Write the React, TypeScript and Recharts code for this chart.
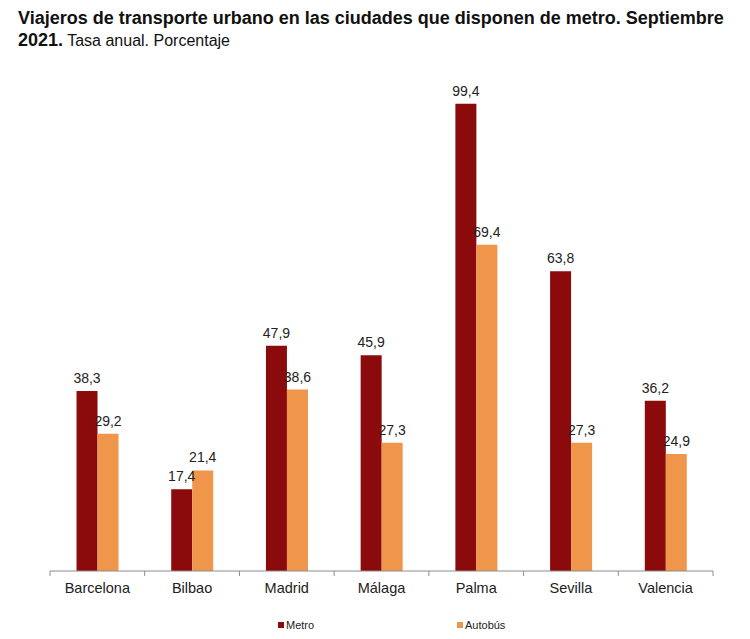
import React from 'react'
import { BarChart, Bar, XAxis, YAxis, LabelList, Legend } from 'recharts';

const cities: string[] = ['Barcelona', 'Bilbao', 'Madrid', 'Málaga', 'Palma', 'Sevilla', 'Valencia']
const metro: number[] = [38.3, 17.4, 47.9, 45.9, 99.4, 63.8, 36.2]
const autobus: number[] = [29.2, 21.4, 38.6, 27.3, 69.4, 27.3, 24.9]

const data = cities.map((name, i) => ({ name, metro: metro[i], autobus: autobus[i] }))

const METRO = '#8B0A0B'
const AUTOBUS = '#F0964A'
const AXIS = '#8c8c8c'
const FONT = '"Liberation Sans", Arial, sans-serif'
const TICK_SIZE = 5
const TICK_MARGIN = 6

const fmt = (v: any) => String(v).replace('.', ',')

// category label plus tick marks on the borders between categories
const CityTick = (props: any) => {
    const { x, y, payload, index, visibleTicksCount } = props
    const half = payload.offset || 0
    const axisY = y - TICK_SIZE - TICK_MARGIN
    const isLast = index === (visibleTicksCount ?? cities.length) - 1
    return (
        <g>
            <line x1={x - half} x2={x - half} y1={axisY} y2={axisY + 5} stroke={AXIS} />
            {isLast && <line x1={x + half} x2={x + half} y1={axisY} y2={axisY + 5} stroke={AXIS} />}
            <text x={x} y={y + 1} dy="0.71em" textAnchor="middle" fill="#222" fontSize={14.5} fontFamily={FONT}>
                {payload.value}
            </text>
        </g>
    )
}

const LegendContent = () => (
    <div style={{ position: 'relative', height: 16, fontFamily: FONT, fontSize: 11, color: '#222' }}>
        <div style={{ position: 'absolute', left: 278, top: 0, display: 'flex', alignItems: 'center' }}>
            <span style={{ width: 6, height: 6, background: METRO, marginRight: 2, display: 'inline-block' }} />
            Metro
        </div>
        <div style={{ position: 'absolute', left: 457, top: 0, display: 'flex', alignItems: 'center' }}>
            <span style={{ width: 6, height: 6, background: AUTOBUS, marginRight: 2, display: 'inline-block' }} />
            Autobús
        </div>
    </div>
)

const App: React.FC = () => {
    return (
        <div style={{ position: 'absolute', left: 0, top: 0, width: 750, height: 639, background: '#fff', fontFamily: FONT }}>
            <div style={{ position: 'absolute', left: 18, top: 7, fontSize: 18, lineHeight: '22px', color: '#111', width: 730 }}>
                <b>Viajeros de transporte urbano en las ciudades que disponen de metro. Septiembre<br />2021.</b>
                <span style={{ fontSize: 16 }}> Tasa anual. Porcentaje</span>
            </div>
            <div style={{ position: 'absolute', left: 0, top: 0 }}>
                <BarChart
                    width={750}
                    height={639}
                    data={data}
                    barGap={0}
                    barCategoryGap="28%"
                    margin={{ top: 101, right: 37, left: 50, bottom: 38 }}
                >
                    <XAxis
                        dataKey="name"
                        stroke={AXIS}
                        tickLine={false}
                        tickSize={TICK_SIZE}
                        tickMargin={TICK_MARGIN}
                        height={30}
                        interval={0}
                        tick={<CityTick />}
                    />
                    <YAxis hide domain={[0, 100]} />
                    <Legend verticalAlign="middle" align="center" layout="horizontal" content={<LegendContent />}
                        wrapperStyle={{ top: 619, left: 0, width: 750 }} />
                    <Bar dataKey="metro" name="Metro" fill={METRO} isAnimationActive={false}>
                        <LabelList dataKey="metro" position="top" offset={8} formatter={fmt} fill="#222" fontSize={14} fontFamily={FONT} />
                    </Bar>
                    <Bar dataKey="autobus" name="Autobús" fill={AUTOBUS} isAnimationActive={false}>
                        <LabelList dataKey="autobus" position="top" offset={8} formatter={fmt} fill="#222" fontSize={14} fontFamily={FONT} />
                    </Bar>
                </BarChart>
            </div>
        </div>
    )
}

export default App
